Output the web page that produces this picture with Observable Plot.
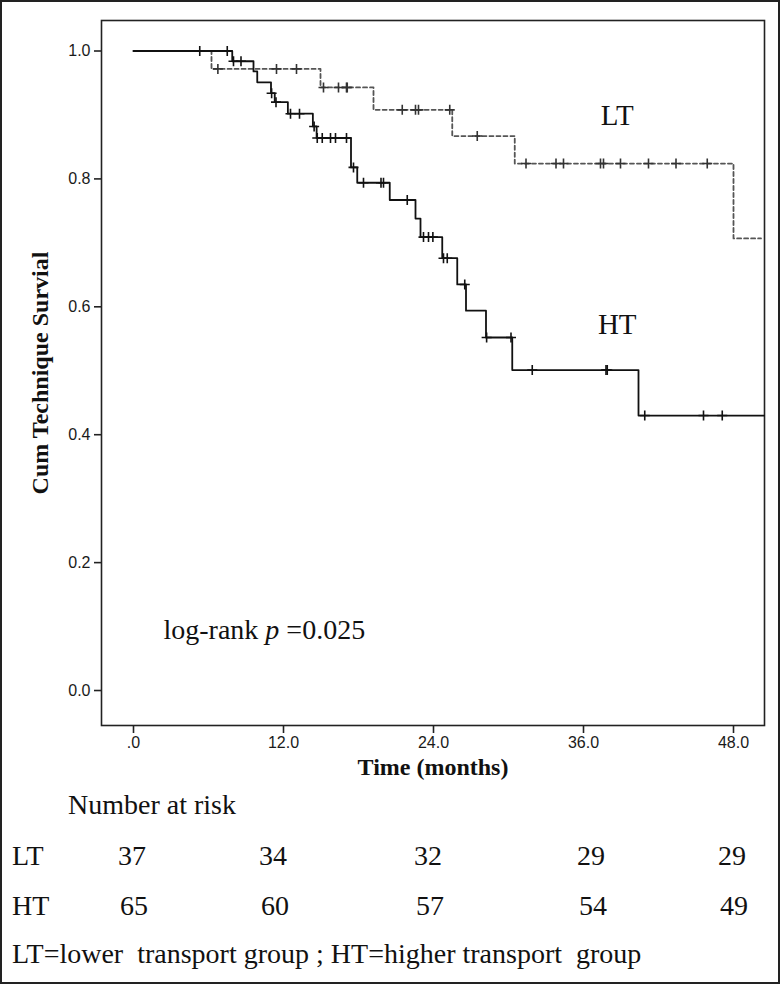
<!DOCTYPE html>
<html>
<head>
<meta charset="utf-8">
<script src="https://cdn.jsdelivr.net/npm/d3@7"></script>
<script src="https://cdn.jsdelivr.net/npm/@observablehq/plot@0.6"></script>
<style>
  html, body { margin: 0; padding: 0; background: #fff; }
  #wrap { position: relative; width: 780px; height: 984px; overflow: hidden; background: #fff; }
  #border { position: absolute; left: 0; top: 0; width: 780px; height: 984px; box-sizing: border-box; border: 2px solid #222; pointer-events: none; }
  #chart { position: absolute; left: 0; top: 0; }
  .t { position: absolute; font-family: "Liberation Serif", "Times New Roman", serif; font-size: 28px; line-height: 28px; color: #111; white-space: pre; }
  .num { transform: translateX(-50%); }
</style>
</head>
<body>
<div id="wrap">
  <div id="chart"></div>
  <div id="table"></div>
  <div id="border"></div>
</div>
<script>
// ---- Data ----
// Step curves: time (months) at which survival changes, and survival after that time
const ltTime = [0, 6.24, 14.96, 19.2, 25.5, 30.5, 48.0, 50.2];
const ltSurv = [1.0, 0.972, 0.943, 0.908, 0.867, 0.824, 0.707, 0.707];
const htTime = [0, 7.9, 9.6, 9.9, 11.0, 11.3, 12.35, 14.35, 14.65, 17.4, 17.9, 20.5, 22.56, 22.96, 24.7, 25.9, 26.6, 28.2, 30.3, 40.4, 50.45];
const htSurv = [1.0, 0.984, 0.968, 0.951, 0.934, 0.920, 0.902, 0.882, 0.864, 0.818, 0.794, 0.767, 0.738, 0.709, 0.676, 0.635, 0.594, 0.552, 0.501, 0.430, 0.430];
// Censored observations (months)
const ltCensor = [6.75, 11.44, 13.04, 15.2, 16.4, 17.04, 17.1, 21.5, 22.56, 22.8, 25.3, 27.5, 31.4, 33.8, 34.4, 37.36, 37.6, 38.96, 41.2, 43.4, 45.9];
const htCensor = [5.3, 7.5, 8.0, 8.6, 11.05, 11.4, 12.56, 13.28, 14.45, 14.7, 15.1, 15.76, 16.16, 17.04, 17.6, 18.4, 19.8, 20.0, 21.9, 23.2, 23.6, 23.95, 24.8, 25.1, 26.5, 28.25, 30.2, 31.9, 37.8, 37.9, 40.9, 45.6, 47.1];
// Axis ticks
const xTicks = [0, 12, 24, 36, 48];
const yTicks = [0, 0.2, 0.4, 0.6, 0.8, 1.0];
// Number at risk
const riskGroups = ["LT", "HT"];
const ltRisk = [37, 34, 32, 29, 29];
const htRisk = [65, 60, 57, 54, 49];

// ---- Build tables ----
const ltSteps = ltTime.map((t, i) => ({t, s: ltSurv[i]}));
const htSteps = htTime.map((t, i) => ({t, s: htSurv[i]}));
function stepAt(times, survs, t) {
  let s = survs[0];
  for (let i = 0; i < times.length; i++) if (times[i] <= t) s = survs[i];
  return s;
}
const ltMarks = ltCensor.map(t => ({t, s: stepAt(ltTime, ltSurv, t)}));
const htMarks = htCensor.map(t => ({t, s: stepAt(htTime, htSurv, t)}));

const plusSymbol = {
  draw(ctx, size) {
    const r = Math.sqrt(size / Math.PI);
    ctx.moveTo(-r, 0); ctx.lineTo(r, 0);
    ctx.moveTo(0, -r); ctx.lineTo(0, r);
  }
};

const serif = "Liberation Serif, Times New Roman, serif";
const sans = "Liberation Sans, Arial, sans-serif";
const xFmt = d => d === 0 ? ".0" : d.toFixed(1);
const yFmt = d => d.toFixed(1);

const chart = Plot.plot({
  width: 780,
  height: 800,
  marginLeft: 101,
  marginRight: 16,
  marginTop: 20,
  marginBottom: 75,
  style: {fontFamily: sans, fontSize: "16px", color: "#222", background: "transparent"},
  x: {domain: [-2.56, 50.48]},
  y: {domain: [-0.0547, 1.0477]},
  marks: [
    Plot.frame({stroke: "#222", strokeWidth: 1.6}),
    Plot.axisX({ticks: xTicks, tickFormat: xFmt, tickSize: 8, tickPadding: 3, label: null, stroke: "#222", strokeWidth: 1.6, fill: "#1a1a1a"}),
    Plot.axisY({ticks: yTicks, tickFormat: yFmt, tickSize: 7, tickPadding: 4, label: null, stroke: "#222", strokeWidth: 1.6, fill: "#1a1a1a"}),
    Plot.line(ltSteps, {x: "t", y: "s", curve: "step-after", stroke: "#555", strokeWidth: 1.8, strokeDasharray: "4,3"}),
    Plot.line(htSteps, {x: "t", y: "s", curve: "step-after", stroke: "#111", strokeWidth: 1.8}),
    Plot.dot(ltMarks, {x: "t", y: "s", symbol: plusSymbol, r: 5, stroke: "#333", strokeWidth: 1.6, fill: "none"}),
    Plot.dot(htMarks, {x: "t", y: "s", symbol: plusSymbol, r: 5, stroke: "#111", strokeWidth: 1.6, fill: "none"}),
    Plot.text(["LT"], {x: 38.7, y: 0.899, text: d => d, fontFamily: serif, fontSize: 29, fill: "#111"}),
    Plot.text(["HT"], {x: 38.7, y: 0.572, text: d => d, fontFamily: serif, fontSize: 29, fill: "#111"}),
    Plot.text([0], {x: 2.4, y: 0.094, text: () => "log-rank ", textAnchor: "start", fontFamily: serif, fontSize: 28, fill: "#111"}),
    Plot.text(["Time (months)"], {frameAnchor: "bottom", dy: 49, text: d => d, fontFamily: serif, fontSize: 24, fontWeight: "bold", fill: "#111"}),
    Plot.text(["Cum Technique Survial"], {frameAnchor: "left", textAnchor: "middle", dx: -61, rotate: -90, text: d => d, fontFamily: serif, fontSize: 24, fontWeight: "bold", fill: "#111"})
  ]
});
document.getElementById("chart").appendChild(chart);

// Enlarge tick labels and add italic p to log-rank label
(function() {
  const ns = "http://www.w3.org/2000/svg";
  const tickLabels = new Set([...xTicks.map(xFmt), ...yTicks.map(yFmt)]);
  chart.querySelectorAll("text").forEach(t => {
    if (tickLabels.has(t.textContent)) {
      t.style.fontSize = "16px";
      t.style.fontFamily = sans;
      t.style.fill = "#1a1a1a";
    }
    if (t.textContent === "log-rank ") {
      const sp = document.createElementNS(ns, "tspan");
      sp.setAttribute("font-style", "italic");
      sp.textContent = "p";
      const sp2 = document.createElementNS(ns, "tspan");
      sp2.textContent = " =0.025";
      t.appendChild(sp);
      t.appendChild(sp2);
    }
  });
})();

// ---- Number at risk table (HTML below the plot) ----
const table = document.getElementById("table");
const colCenters = [132, 273, 428, 591, 732];
const rowTops = {LT: 842, HT: 892};
function addText(txt, left, top, cls) {
  const d = document.createElement("div");
  d.className = "t" + (cls ? " " + cls : "");
  d.style.left = left + "px";
  d.style.top = top + "px";
  d.textContent = txt;
  table.appendChild(d);
}
addText("Number at risk", 68, 791);
riskGroups.forEach(g => {
  addText(g, 12, rowTops[g]);
  const vals = g === "LT" ? ltRisk : htRisk;
  vals.forEach((v, i) => addText(String(v), colCenters[i] + (g === "HT" ? 2 : 0), rowTops[g], "num"));
});
addText("LT=lower  transport group ; HT=higher transport  group", 12, 940);
</script>
</body>
</html>
